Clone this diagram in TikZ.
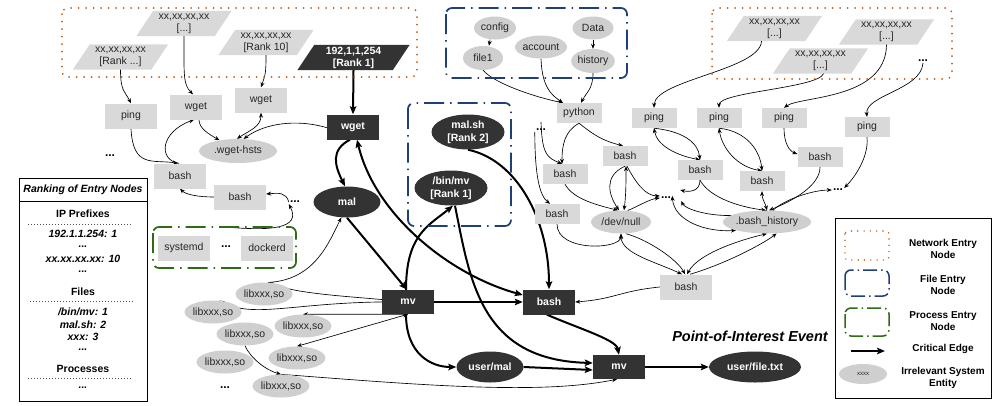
\documentclass[tikz,border=0pt]{standalone}
\usepackage{fontspec}
\setmainfont{Liberation Sans}
\usetikzlibrary{shapes.geometric,arrows.meta,backgrounds}
\definecolor{dk}{HTML}{333333}
\definecolor{lg}{HTML}{D9D9D9}
\definecolor{eg}{HTML}{CFCFCF}
\definecolor{org}{HTML}{C55A11}
\definecolor{blu}{HTML}{1F3F7A}
\definecolor{grn}{HTML}{2E6B12}
\definecolor{tx}{HTML}{262626}
\tikzset{
 base/.style={inner sep=0pt, font=\fontsize{10.5}{12}\selectfont, align=center},
 gbox/.style={base, rectangle, fill=lg, text=tx, minimum width=52pt, minimum height=25pt},
 sbox/.style={base, rectangle, fill=lg, text=tx, minimum width=45pt, minimum height=20pt},
 gell/.style={base, ellipse, fill=eg, text=tx, minimum width=52pt, minimum height=23pt},
 dbox/.style={base, rectangle, fill=dk, text=white, font=\fontsize{10.5}{12}\selectfont\bfseries, minimum width=52pt, minimum height=25pt},
 dell/.style={base, ellipse, fill=dk, text=white, font=\fontsize{10.5}{13}\selectfont\bfseries},
 para/.style={base, text=tx, minimum width=78pt, minimum height=25pt},
 dotn/.style={inner sep=1pt, font=\fontsize{12}{12}\selectfont\bfseries},
 thin/.style={-{Stealth[length=5pt,width=4pt]}, line width=0.65pt},
 thinb/.style={{Stealth[length=5pt,width=4pt]}-{Stealth[length=5pt,width=4pt]}, line width=0.65pt},
 crit/.style={-{Stealth[length=8pt,width=6.5pt,inset=1.5pt]}, line width=2pt},
 critb/.style={{Stealth[length=8pt,width=6.5pt,inset=1.5pt]}-{Stealth[length=8pt,width=6.5pt,inset=1.5pt]}, line width=2pt},
 netbox/.style={draw=org, line width=2pt, dash pattern=on 0pt off 7.5pt, line cap=round, rounded corners=6pt},
 filebox/.style={draw=blu, line width=1.7pt, dash pattern=on 20pt off 6pt on 1.5pt off 6pt, rounded corners=6pt},
 procbox/.style={draw=grn, line width=1.7pt, dash pattern=on 20pt off 6pt on 1.5pt off 6pt, rounded corners=6pt},
 rkb/.style={inner sep=0pt, font=\fontsize{10.5}{12}\selectfont\bfseries},
 rki/.style={inner sep=0pt, font=\fontsize{10.5}{12}\selectfont\bfseries\itshape},
 rkdot/.style={line width=0.6pt, dash pattern=on 0.6pt off 2.4pt, draw=black!70},
 legt/.style={inner sep=0pt, align=center, font=\fontsize{10}{12.5}\selectfont\bfseries},
}
\begin{document}
\begin{tikzpicture}[x=1pt,y=-1pt]
\useasboundingbox (0,0) rectangle (1003,405);
% entry boxes
\draw[netbox] (62,8) rectangle (417,77);
\draw[netbox] (712,8) rectangle (952,79);
\draw[filebox] (446,8) rectangle (627,78);
\draw[filebox] (408,103) rectangle (511,226);
\draw[procbox] (153,227) rectangle (296,268);
\coordinate (gtop) at (226,227);
% parallelograms
\node[para] (p1) at (120.5,57) {xx,xx,xx,xx\\{}[Rank ...]};
\node[para] (p2) at (184,23.5) {xx,xx,xx,xx\\{}[...]};
\node[para] (p3) at (266,42.5) {xx,xx,xx,xx\\{}[Rank 10]};
\node[para, minimum width=95pt, text=white, font=\fontsize{10.5}{12}\selectfont\bfseries] (p4) at (353.5,57.5) {192,1,1,254\\{}[Rank 1]};
\node[para] (pr1) at (774.5,28.5) {xx,xx,xx,xx\\{}[...]};
\node[para] (pr2) at (886.5,32) {xx,xx,xx,xx\\{}[...]};
\node[para] (pr3) at (820.5,61) {xx,xx,xx,xx\\{}[...]};
\node[dotn] (dotsH) at (923,61) {...};
% left processes
\node[gbox] (ping1) at (131,116) {ping};
\node[gbox] (wget1) at (196,107) {wget};
\node[gbox] (wget2) at (261,100) {wget};
\node[gell, minimum width=78pt, minimum height=24pt] (hsts) at (238,151) {.wget-hsts};
\node[dbox] (wgetd) at (353,127) {wget};
\node[dotn] (dotsA) at (110,156) {...};
\node[gbox] (bash1) at (180,176) {bash};
\node[gbox] (bash2) at (240,197) {bash};
\node[dotn] (dotsB) at (295,202) {...};
\node[gbox] (systemd) at (184,248) {systemd};
\node[dotn] (dotsC) at (226,247) {...};
\node[gbox] (dockerd) at (267,248) {dockerd};
\node[dell, minimum width=67pt, minimum height=31pt] (mal) at (347,202) {mal};
\node[gell] (L1) at (264,294) {libxxx,so};
\node[gell] (L2) at (213,312) {libxxx,so};
\node[gell] (L3) at (303,326) {libxxx,so};
\node[gell] (L4) at (245,334) {libxxx,so};
\node[gell] (L5) at (225,362) {libxxx,so};
\node[gell] (L6) at (297,358) {libxxx,so};
\node[gell] (L7) at (281,386) {libxxx,so};
\node[dotn] (dotsD) at (225,388) {...};
% critical chain
\node[dbox, minimum height=24pt] (mv1) at (408,302) {mv};
\node[dbox] (bashd) at (549,302) {bash};
\node[dell, minimum width=67pt, minimum height=31pt] (usermal) at (490,367) {user/mal};
\node[dbox, minimum height=24pt] (mv2) at (619,367) {mv};
\node[dell, minimum width=92pt, minimum height=31pt] (userfile) at (755,367) {user/file.txt};
\node[font=\fontsize{14.5}{16}\selectfont\bfseries\itshape, inner sep=0pt] (poi) at (750,336) {Point-of-Interest Event};
\node[dell, minimum width=73pt, minimum height=35pt] (malsh) at (468,132) {mal.sh\\{}[Rank 2]};
\node[dell, minimum width=73pt, minimum height=35pt] (binmv) at (451,188) {/bin/mv\\{}[Rank 1]};
% files top
\node[gell, minimum width=42pt, minimum height=23pt] (config) at (495,28) {config};
\node[gell, minimum width=40pt, minimum height=24pt] (file1) at (483,58) {file1};
\node[gell, minimum width=41pt, minimum height=23pt] (account) at (541,47) {account};
\node[gell, minimum width=41pt, minimum height=23pt] (data) at (593,28) {Data};
\node[gell, minimum width=41pt, minimum height=24pt] (history) at (593,61) {history};
% right processes
\node[sbox] (python) at (579,113) {python};
\node[dotn] (dotsE) at (541,130) {...};
\node[sbox] (basha) at (565,174) {bash};
\node[sbox] (bashb) at (625,156) {bash};
\node[sbox] (bashc) at (557,214) {bash};
\node[gell, minimum width=60pt, minimum height=23pt] (devnull) at (621,222) {/dev/null};
\node[dotn] (dotsF) at (666,198) {...};
\node[sbox] (r1) at (654,118) {ping};
\node[sbox] (r2) at (719,118) {ping};
\node[sbox] (r3) at (784,118) {ping};
\node[sbox] (r4) at (867,127) {ping};
\node[sbox] (bD) at (700,170) {bash};
\node[sbox] (bE) at (762,181) {bash};
\node[sbox] (bF) at (820,157) {bash};
\node[gell, minimum width=73pt, minimum height=23pt] (bhist) at (767,222) {.bash\_history};
\node[gbox] (bashg) at (686,287) {bash};
\node[dotn] (dotsG) at (838,190) {...};
% ranking box
\draw[line width=0.8pt] (19,178) rectangle (147,401);
\draw[line width=0.8pt] (19,201) -- (147,201);
\node[rki] (rk0) at (83,190) {Ranking of Entry Nodes};
\node[rkb] (rk1) at (83,214) {IP Prefixes};
\draw[rkdot] (28,224) -- (132,224);
\node[rki] (rk2) at (83,234) {192.1.1.254: 1};
\node[rki] (rk3) at (83,247) {...};
\node[rki] (rk4) at (83,259) {xx.xx.xx.xx: 10};
\node[rki] (rk5) at (83,272) {...};
\node[rkb] (rk6) at (83,292) {Files};
\draw[rkdot] (30,301) -- (134,301);
\node[rki] (rk7) at (83,312) {/bin/mv: 1};
\node[rki] (rk8) at (83,324.5) {mal.sh: 2};
\node[rki] (rk9) at (83,337) {xxx: 3};
\node[rki] (rk10) at (83,350) {...};
\node[rkb] (rk11) at (83,369) {Processes};
\draw[rkdot] (28,378) -- (132,378);
\node[rki] (rk12) at (83,388) {...};
% legend
\draw[line width=0.8pt] (835,218) rectangle (991,398);
\draw[netbox, line width=1.6pt, dash pattern=on 0pt off 6.3pt, rounded corners=3pt] (845,231) rectangle (889,260);
\draw[filebox, line width=1.5pt, dash pattern=on 14pt off 4pt on 1.5pt off 4pt] (845,270) rectangle (889,296);
\draw[procbox, line width=1.5pt, dash pattern=on 14pt off 4pt on 1.5pt off 4pt] (845,308) rectangle (889,336);
\coordinate (lgA) at (851,351);
\coordinate (lgB) at (885,351);
\node[gell, minimum width=48pt, minimum height=20pt, font=\fontsize{6}{7}\selectfont] (lgE) at (863,374) {xxxx};
\node[legt] (lt1) at (943,249) {Network Entry\\Node};
\node[legt] (lt2) at (943,285) {File Entry\\Node};
\node[legt] (lt3) at (943,321) {Process Entry\\Node};
\node[legt] (lt4) at (943,349) {Critical Edge};
\node[legt] (lt5) at (943,378) {Irrelevant System\\Entity};
\begin{pgfonlayer}{background}
\foreach \n/\c in {p1/lg,p2/lg,p3/lg,pr1/lg,pr2/lg,pr3/lg,p4/dk}
  \fill[\c] ([xshift=-8.5pt]\n.south west) -- ([xshift=-8.5pt]\n.south east) -- ([xshift=8.5pt]\n.north east) -- ([xshift=8.5pt]\n.north west) -- cycle;
\draw[crit] (lgA) -- (lgB);
% left thin edges
\draw[thin] (p2.south) .. controls +(0,38) and +(-10,-10) .. ([xshift=-3pt]wget1.north);
\draw[thin] (p1.south) .. controls +(0,22) and +(-6,-12) .. (ping1.north);
\draw[thin] (p3.south) .. controls +(0,20) and +(4,-12) .. (wget2.north);
\draw[thin] ([xshift=3pt]wget1.south) .. controls +(0,9) and +(-10,-6) .. (hsts.150);
\draw[thinb] (wget2.south) .. controls +(0,14) and +(12,-8) .. (hsts.95);
\draw[thin] (wgetd.south) .. controls (320,118) and (272,118) .. (hsts.65);
\draw[thin] (ping1.south) .. controls +(2,40) and +(-25,-4) .. ([xshift=-2pt]bash1.north);
\draw[thin] ([xshift=-1pt]bash1.north) .. controls (158,160) and (160,132) .. ([xshift=-2pt]wget1.south);
\draw[thin] (bash2.west) .. controls +(-15,0) and +(6,6) .. (bash1.south);
\draw[thin] (dotsB.west) .. controls (286,192) and (278,193) .. ([yshift=3pt]bash2.east);
\draw[thin] (gtop) .. controls (270,231) and (302,229) .. (dotsB.south west);
\draw[thin] (L1.70) .. controls (315,280) and (329,242) .. (mal.250);
\draw[thin] (mv1.center) .. controls (350,296) and (300,295) .. (L1.70);
\draw[thin] (mv1.center) .. controls (300,300) and (255,320) .. (L2.60);
\draw[thinb] (L3.north) -- (mv1.south);
\draw[thinb] (L6.north) -- (mv1.south);
\draw[thin] (L4.south) .. controls +(5,12) and +(-15,-4) .. (L7.north);
\draw[thin] (L7.north) .. controls (420,385) and (540,395) .. ([xshift=-2pt]mv2.south);
\draw[thin] (bashg.west) .. controls +(-40,4) and +(40,-3) .. (bashd.east);
% file edges
\draw[thin] ([xshift=-5pt]config.south) -- ([xshift=6pt]file1.north);
\draw[thin] (data.south) -- (history.north);
\draw[thin] (file1.south) .. controls +(12,14) and +(-25,-5) .. ([xshift=-16pt]python.north);
\draw[thin] (account.south) .. controls +(1,28) and +(-12,-8) .. ([xshift=-16pt]python.north);
\draw[thin] (history.south) .. controls +(0,16) and +(5,-10) .. ([xshift=2pt]python.north);
% right thin edges
\draw[thin] (python.south) .. controls +(-14,8) and +(0,-20) .. ([xshift=-3pt]basha.north);
\draw[thin] (python.south) .. controls +(15,12) and +(-20,-5) .. ([xshift=-2pt]bashb.north);
\draw[thin] ([yshift=6pt]dotsE.north) .. controls +(1,32) and +(-15,-6) .. ([xshift=-3pt]basha.north);
\draw[thin] (dotsE.south west) .. controls +(0,45) and +(-10,-8) .. ([xshift=-7pt]bashc.north);
\draw[thin] (basha.south) .. controls +(8,15) and +(-20,-5) .. ([xshift=-3pt]devnull.north);
\draw[thin] (bashc.south) .. controls +(0,28) and +(0,16) .. (devnull.south);
\draw[thin] (bashb.south) .. controls +(-22,10) and +(-10,-15) .. ([xshift=-2pt]devnull.north);
\draw[thinb] ([xshift=3pt]devnull.north) .. controls +(2,-15) and +(0,15) .. ([xshift=1pt]bashb.south);
\draw[thin] ([xshift=2pt]bashb.south) .. controls +(8,15) and +(-15,0) .. (dotsF.north west);
\draw[thin] (devnull.60) .. controls +(10,-4) and +(-10,1) .. (dotsF.west);
\draw[thin] (bD.south) .. controls +(0,12) and +(8,2) .. ([xshift=8pt,yshift=8pt]dotsF.east);
\draw[thinb] (dotsF.north east) .. controls +(2,25) and +(-30,2) .. (bhist.195);
\draw[thin] (bhist.north) .. controls +(-40,12) and +(5,10) .. ([xshift=9pt,yshift=-3pt]dotsF.east);
\draw[thin] (bD.south) .. controls +(10,18) and +(-25,-3) .. ([xshift=-1pt]bhist.north);
\draw[thinb] (bE.south) .. controls +(0,8) and +(-2,-8) .. (bhist.north);
\draw[thin] (bF.south) .. controls +(0,18) and +(25,-10) .. ([xshift=2pt]bhist.north);
\draw[thin] ([xshift=6pt]bhist.north) .. controls +(10,-10) and +(-20,0) .. (dotsG.west);
\draw[thin] (r1.south) .. controls +(28,3) and +(-2,-18) .. (bD.north);
\draw[thinb] (bD.north) .. controls +(-22,-4) and +(3,18) .. (r1.south);
\draw[thin] (r2.south) .. controls +(28,3) and +(-2,-20) .. (bE.north);
\draw[thinb] (bE.north) .. controls +(-25,-4) and +(3,20) .. (r2.south);
\draw[thin] (r3.south) .. controls +(0,15) and +(-8,-3) .. ([yshift=3pt]bF.west);
\draw[thin] (r4.south) .. controls +(2,20) and +(10,-10) .. (dotsG.north east);
\draw[thin] ([xshift=-13pt]pr1.south) .. controls (760,70) and (655,80) .. (r1.north);
\draw[thin] ([xshift=3pt]pr3.south) .. controls (818,88) and (719,92) .. (r2.north);
\draw[thin] (pr2.south) .. controls (886,100) and (800,96) .. (r3.north);
\draw[thin] (dotsH.south) .. controls (921,90) and (865,95) .. (r4.north);
\draw[thinb] (devnull.south) .. controls +(0,20) and +(-25,-12) .. ([xshift=-4pt]bashg.north);
\draw[thin] ([xshift=5pt]devnull.south) .. controls +(22,6) and +(-8,-15) .. ([xshift=-1pt]bashg.north);
\draw[thinb] ([xshift=1pt]bashg.north) .. controls +(12,-22) and +(-22,5) .. (bhist.south);
\draw[thin] ([xshift=4pt]bashg.north) .. controls +(40,-12) and +(-10,8) .. (bhist.310);
% critical edges
\draw[crit] (p4.south) -- (wgetd.north);
\draw[crit] ([xshift=-3pt]wgetd.south) .. controls (330,150) and (335,166) .. ([xshift=-2pt]mal.north);
\draw[critb] ([xshift=4pt]wgetd.south) .. controls (375,215) and (450,275) .. ([yshift=7pt]bashd.west);
\draw[crit] (malsh.south) .. controls (517,160) and (549,220) .. (bashd.north);
\draw[crit] (mal.south) -- ([xshift=-1pt]mv1.north);
\draw[crit] ([xshift=-2pt]mv1.north) .. controls (406,235) and (428,226) .. ([xshift=2pt]binmv.south);
\draw[crit] ([xshift=4pt]binmv.south) .. controls (470,280) and (480,360) .. ([yshift=4pt]mv2.west);
\draw[crit] (mv1.east) -- (bashd.west);
\draw[crit] ([xshift=-2pt]mv1.south) .. controls +(0,40) and +(-25,0) .. (usermal.west);
\draw[crit] (usermal.east) -- ([yshift=-3pt]mv2.west);
\draw[crit] ([xshift=-2pt]bashd.south) .. controls +(35,15) and +(-3,-15) .. (mv2.north);
\draw[crit] (mv2.east) -- (userfile.west);
\end{pgfonlayer}
\end{tikzpicture}
\end{document}
